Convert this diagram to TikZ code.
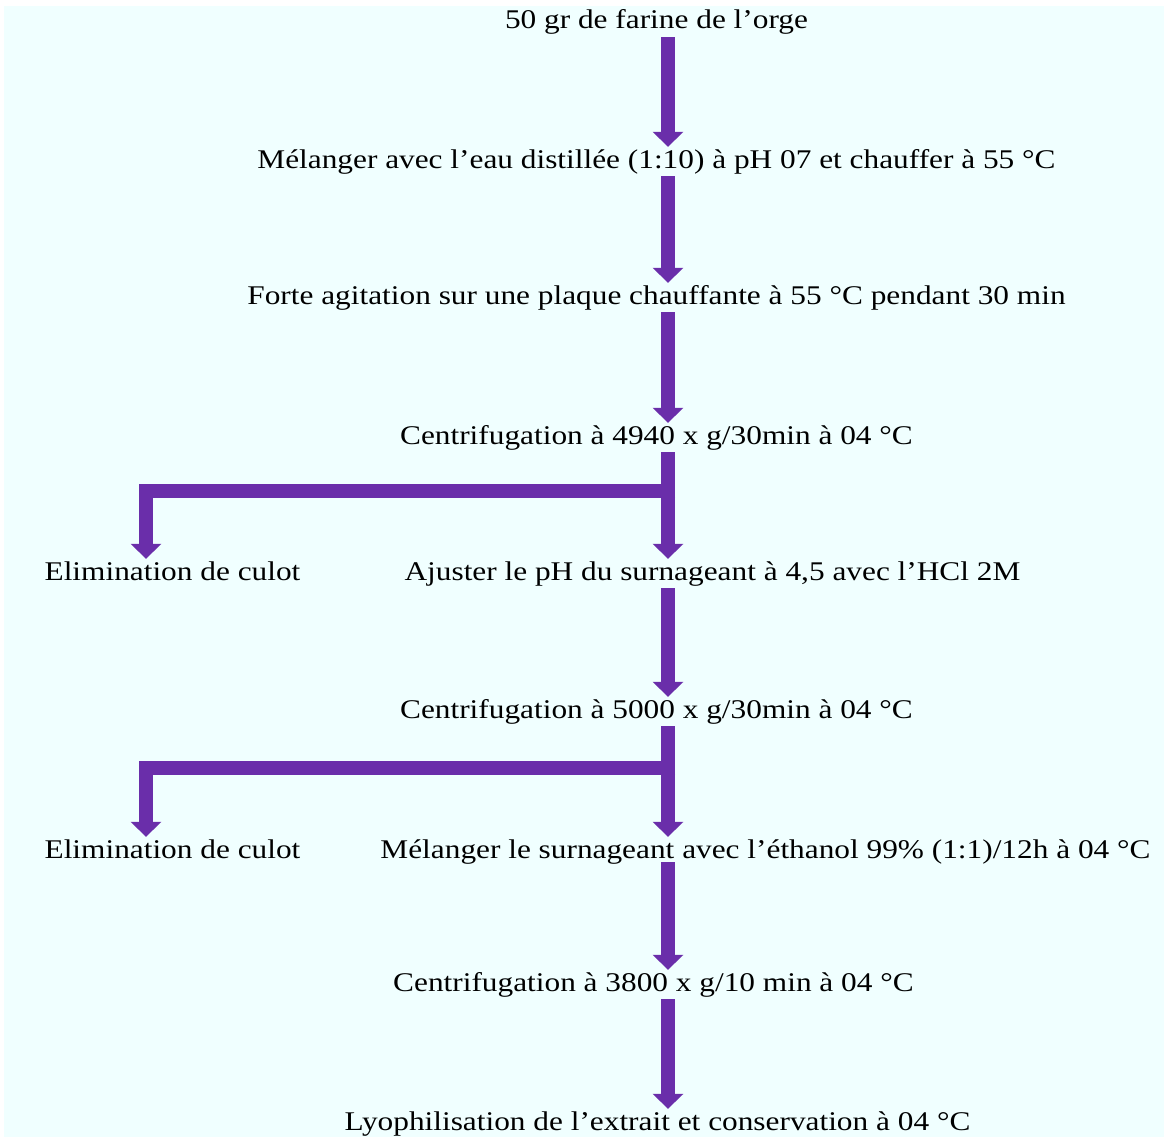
\documentclass[tikz,border=0pt]{standalone}
\usepackage{fontspec}
\setmainfont{Liberation Serif}[FakeStretch=1.16]
\usetikzlibrary{arrows.meta}
\definecolor{arrowc}{RGB}{106,46,170}
\definecolor{bgc}{RGB}{240,255,255}
\tikzset{
  lbl/.style={anchor=base, inner sep=0pt, text height=21pt, text depth=8pt,
    font=\fontsize{27pt}{32pt}\selectfont},
  flow/.style={draw=arrowc, line width=14pt, line join=miter,
    -{Triangle[width=30pt,length=15pt]}},
}
\begin{document}
\begin{tikzpicture}[x=1pt,y=1pt]
\useasboundingbox (0,0) rectangle (1164,-1137);
\fill[bgc] (4,-6) rectangle (1164,-1137);
\coordinate (col) at (668,0);
\coordinate (colL) at (146,0);
\node[lbl] (n1) at (656.5,-29) {50 gr de farine de l’orge};
\node[lbl] (n2) at (656.5,-168) {Mélanger avec l’eau distillée (1:10) à pH 07 et chauffer à 55 °C};
\node[lbl] (n3) at (656.5,-304) {Forte agitation sur une plaque chauffante à 55 °C pendant 30 min};
\node[lbl] (n4) at (656.5,-444) {Centrifugation à 4940 x g/30min à 04 °C};
\node[lbl] (n5l) at (172.5,-580) {Elimination de culot};
\node[lbl] (n5) at (712.5,-580) {Ajuster le pH du surnageant à 4,5 avec l’HCl 2M};
\node[lbl] (n6) at (656.5,-718) {Centrifugation à 5000 x g/30min à 04 °C};
\node[lbl] (n7l) at (172.5,-858) {Elimination de culot};
\node[lbl] (n7) at (765.5,-858) {Mélanger le surnageant avec l’éthanol 99\% (1:1)/12h à 04 °C};
\node[lbl] (n8) at (653.5,-991) {Centrifugation à 3800 x g/10 min à 04 °C};
\node[lbl] (n9) at (657.5,-1130) {Lyophilisation de l’extrait et conservation à 04 °C};
\coordinate (j1) at (675,-491);
\coordinate (j2) at (675,-768);
\draw[flow] (n1.south -| col) -- (n2.north -| col);
\draw[flow] (n2.south -| col) -- (n3.north -| col);
\draw[flow] (n3.south -| col) -- (n4.north -| col);
\draw[flow] (n4.south -| col) -- (n5.north -| col);
\draw[flow] (j1) -- (j1 -| colL) -- (n5l.north -| colL);
\draw[flow] (n5.south -| col) -- (n6.north -| col);
\draw[flow] (n6.south -| col) -- (n7.north -| col);
\draw[flow] (j2) -- (j2 -| colL) -- (n7l.north -| colL);
\draw[flow] ([yshift=4pt]n7.south -| col) -- (n8.north -| col);
\draw[flow] (n8.south -| col) -- (n9.north -| col);
\end{tikzpicture}
\end{document}
